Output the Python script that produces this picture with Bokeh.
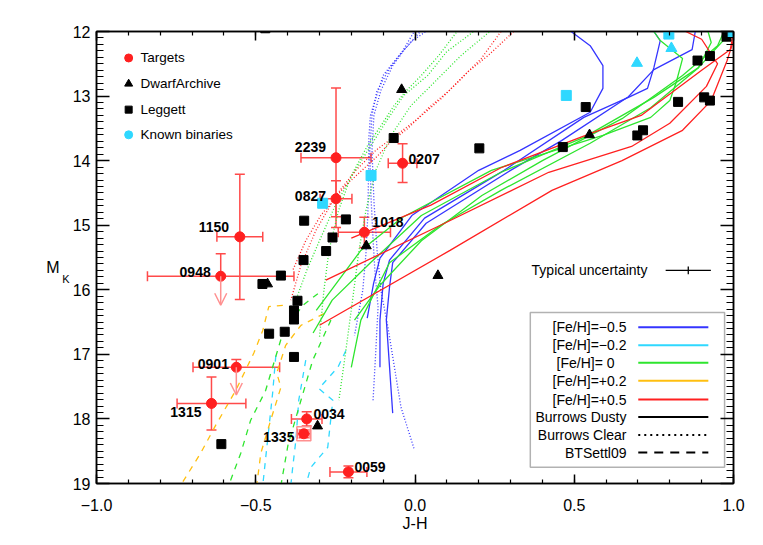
from bokeh.plotting import figure
from bokeh.models import (Range1d, LinearAxis, SingleIntervalTicker, CustomJSTickFormatter,
                          Label, BoxAnnotation, Whisker, TeeHead, ColumnDataSource, Arrow, OpenHead)
from bokeh.embed import file_html
from bokeh.resources import INLINE

# ---------------- data ----------------
# Targets
target_names = ["0207", "2239", "0827", "1018", "1150", "0948", "0901", "1315", "0034", "1335", "0059"]
target_jh = [-0.039, -0.248, -0.248, -0.159, -0.550, -0.610, -0.561, -0.639, -0.340, -0.349, -0.209]
target_mk = [14.04, 13.955, 14.59, 15.11, 15.18, 15.79, 17.20, 17.76, 18.00, 18.23, 18.82]
target_jh_err = [0.045, 0.11, 0.05, 0.082, 0.072, 0.23, 0.136, 0.108, 0.048, 0.02, 0.058]
target_mk_err = [0.30, 1.08, 0.28, 0.235, 0.97, 0.35, 0.12, 0.41, 0.11, 0.06, 0.09]
target_upper_limit = [False, False, False, False, False, True, True, False, False, False, False]
limit_mk_end = [16.24, 17.63]  # arrow tips for the two upper limits (0948, 0901)
highlight_names = ["1335"]

# DwarfArchive (triangles)
dwarf_jh = [-0.042, 0.548, -0.153, 0.072, -0.463, -0.306]
dwarf_mk = [12.90, 13.60, 15.32, 15.78, 15.91, 18.11]

# Leggett (squares)
leggett_jh = [-0.067, 0.202, 0.536, 0.464, 0.698, 0.716, 0.826, 0.908, 0.926, 0.887, 0.926, 0.978,
              -0.421, -0.479, -0.348, -0.350, -0.369, -0.380, -0.380, -0.458, -0.409, -0.217,
              -0.259, -0.279, -0.380, -0.608, -0.470]
leggett_mk = [13.65, 13.81, 13.17, 13.79, 13.61, 13.53, 13.09, 13.02, 13.07, 12.45, 12.38, 12.08,
              15.78, 15.91, 14.93, 15.54, 16.17, 16.32, 16.46, 16.68, 16.65, 14.91,
              15.19, 15.40, 17.04, 18.39, 11.95]

# Known binaries (cyan)
binary_sq_jh = [-0.138, -0.290, 0.475, 0.797, 0.999]
binary_sq_mk = [14.23, 14.66, 12.99, 12.04, 12.01]
binary_tri_jh = [0.697, 0.805]
binary_tri_mk = [12.49, 12.26]

# Burrows Dusty (solid)
dusty_m05_x = [[0.49, 0.55, 0.59, 0.59, 0.55, 0.33, 0.20, -0.01, -0.11, -0.13, -0.15],
               [0.75, 0.77, 0.75, 0.73, 0.67, 0.53, 0.28, 0.03, -0.08, -0.10, -0.11, -0.11],
               [0.88, 0.87, 0.75, 0.67, 0.46, 0.30, 0.035, -0.07, -0.08, -0.09, -0.07]]
dusty_m05_y = [[12.00, 12.22, 12.53, 12.88, 13.25, 13.84, 14.15, 14.85, 15.51, 15.90, 16.44],
               [12.00, 12.14, 12.56, 12.88, 13.02, 13.33, 14.15, 14.89, 15.54, 15.90, 16.47, 17.20],
               [12.00, 12.28, 12.59, 13.01, 13.69, 14.15, 14.97, 15.58, 15.96, 16.47, 17.91]]
dusty_00_x = [[0.75, 0.77, 0.84, 0.82, 0.80, 0.74, 0.59, 0.24, -0.04, -0.17, -0.31],
              [0.92, 0.93, 0.89, 0.75, 0.53, 0.27, 0.02, -0.14, -0.26, -0.32],
              [0.99, 0.89, 0.74, 0.55, 0.27, 0.08, -0.08, -0.17, -0.20],
              [0.97, 0.95, 0.84, 0.65, 0.40, 0.21, 0.02, -0.11, -0.19]]
dusty_00_y = [[12.00, 12.14, 12.42, 12.79, 13.07, 13.33, 13.61, 14.15, 14.88, 15.39, 16.32],
              [12.00, 12.17, 12.56, 13.02, 13.64, 14.18, 14.85, 15.58, 16.16, 16.67],
              [12.02, 12.56, 13.18, 13.73, 14.46, 15.00, 15.58, 16.47, 17.20],
              [12.00, 12.22, 12.68, 13.35, 14.00, 14.54, 15.24, 15.93, 16.47]]
dusty_p05_x = [[-0.20, 0.05, 0.27, 0.55, 0.71, 0.90, 0.99, 1.00],
               [-0.28, 0.08, 0.42, 0.68, 0.80, 0.915, 0.95, 0.90, 0.85],
               [-0.30, 0.11, 0.43, 0.65, 0.84, 0.93, 0.98, 1.00]]
dusty_p05_y = [[15.20, 14.69, 14.11, 13.58, 13.30, 12.60, 12.28, 12.00],
               [15.85, 15.00, 14.18, 13.78, 13.42, 12.85, 12.50, 12.12, 12.00],
               [16.55, 15.39, 14.46, 14.00, 13.53, 13.07, 12.45, 12.14]]

# Burrows Clear (dotted)
clear_m05_x = [[0.04, -0.01, -0.05, -0.10, -0.12, -0.14, -0.145, -0.145, -0.148, -0.154, -0.164, -0.19],
               [0.00, -0.04, -0.08, -0.12, -0.135, -0.142, -0.138, -0.132, -0.126, -0.116, -0.123, -0.132],
               [0.02, -0.03, -0.07, -0.107, -0.129, -0.135, -0.129, -0.119, -0.107, -0.085, -0.044, -0.003]]
clear_m05_y = [[11.98, 12.15, 12.37, 12.68, 12.99, 13.30, 13.66, 14.01, 14.82, 15.44, 16.01, 16.71],
               [11.98, 12.31, 12.57, 12.93, 13.30, 13.84, 14.57, 15.19, 15.70, 16.27, 16.94, 17.74],
               [11.98, 12.26, 12.53, 12.91, 13.30, 13.84, 14.62, 15.39, 16.01, 16.58, 17.82, 18.46]]
clear_00_x = [[0.19, 0.10, 0.04, -0.035, -0.085, -0.13, -0.19, -0.25, -0.30, -0.34, -0.38],
              [0.135, 0.075, 0.02, -0.03, -0.066, -0.107, -0.148, -0.20, -0.24, -0.27, -0.286, -0.30],
              [0.24, 0.145, 0.066, -0.013, -0.075, -0.123, -0.154, -0.176, -0.195, -0.217, -0.239]]
clear_00_y = [[11.98, 12.31, 12.68, 12.99, 13.35, 13.70, 14.17, 14.69, 15.24, 15.70, 16.24],
              [11.98, 12.37, 12.68, 12.93, 13.15, 13.46, 13.76, 14.23, 14.77, 15.39, 16.01, 16.74],
              [11.98, 12.37, 12.76, 13.15, 13.61, 14.15, 14.77, 15.39, 16.12, 16.94, 17.71]]
clear_p05_x = [[0.31, 0.23, 0.167, 0.104, 0.041, -0.022, -0.075, -0.116, -0.16, -0.217, -0.296, -0.343, -0.384],
               [0.27, 0.208, 0.145, 0.082, 0.009, -0.06, -0.123, -0.186, -0.248, -0.311, -0.358, -0.39]]
clear_p05_y = [[12.00, 12.37, 12.62, 12.93, 13.19, 13.50, 13.70, 13.92, 14.12, 14.38, 14.85, 15.24, 15.70],
               [12.00, 12.42, 12.73, 13.04, 13.35, 13.61, 13.84, 14.15, 14.54, 15.08, 15.62, 16.16]]

# BT-Settl09 (dashed)
settl_m02_x = [[-0.217, -0.242, -0.302, -0.258, -0.274, -0.327, -0.343],
               [-0.343, -0.365, -0.374, -0.384, -0.390],
               [-0.437, -0.447, -0.462, -0.478]]
settl_m02_y = [[16.94, 17.20, 17.53, 17.71, 18.44, 18.75, 19.03],
               [17.09, 17.71, 18.33, 18.75, 19.03],
               [17.02, 17.60, 18.29, 19.03]]
settl_00_x = [[-0.305, -0.352, -0.415, -0.469, -0.516, -0.547, -0.585],
              [-0.264, -0.321, -0.358, -0.399, -0.421]]
settl_00_y = [[16.06, 16.24, 16.67, 17.56, 18.02, 18.53, 19.03],
              [16.47, 17.09, 17.71, 18.41, 19.03]]
settl_p02_x = [[-0.415, -0.459, -0.478, -0.506, -0.563, -0.626, -0.673, -0.736],
               [-0.286, -0.358, -0.406, -0.434, -0.421, -0.453, -0.484, -0.497]]
settl_p02_y = [[16.24, 16.26, 16.63, 16.98, 17.56, 18.10, 18.53, 19.03],
               [16.37, 16.55, 16.86, 17.29, 17.51, 18.02, 18.53, 19.03]]

# typical uncertainty
typ_jh_err = 0.071
typ_mk_err = 0.06

metal_labels = ["[Fe/H]=\u22120.5", "[Fe/H]=\u22120.2", "[Fe/H]= 0", "[Fe/H]=+0.2", "[Fe/H]=+0.5"]
model_labels = ["Burrows Dusty", "Burrows Clear", "BTSettl09"]
point_labels = ["Targets", "DwarfArchive", "Leggett", "Known binaries"]

# ---------------- style ----------------
FONT = "Liberation Sans"
BLUE = "#3535ff"
CYAN = "#2fd8ff"
GREEN = "#2ee52e"
YELLOW = "#ffbf10"
RED = "#ff2020"
ERR = "#ff4a4a"
PINK = "#ff9090"
DOT = "1 2"
DASH = "6 6"

p = figure(frame_width=637, frame_height=452, x_range=Range1d(-1, 1), y_range=Range1d(19, 12),
           output_backend="svg", toolbar_location=None,
           min_border_left=96, min_border_top=31, min_border_right=20, min_border_bottom=58)
p.grid.visible = False
p.outline_line_color = "black"
p.outline_line_width = 1.5
p.background_fill_color = "white"
p.border_fill_color = "white"

xt = SingleIntervalTicker(interval=0.5, num_minor_ticks=5)
yt = SingleIntervalTicker(interval=1, num_minor_ticks=10)
xfmt = CustomJSTickFormatter(code="if (Math.abs(tick) < 1e-9) return '0.0'; return (tick < 0 ? '\u2212' : '') + Math.abs(tick).toFixed(1);")
yfmt = CustomJSTickFormatter(code="return tick.toFixed(0);")
blank = CustomJSTickFormatter(code="return '';")


def style(ax, major, minor):
    ax.axis_line_width = 1.5
    ax.major_tick_in = major
    ax.major_tick_out = 0
    ax.minor_tick_in = minor
    ax.minor_tick_out = 0
    ax.major_tick_line_width = 1.5
    ax.minor_tick_line_width = 1.2
    ax.major_label_text_font = FONT
    ax.major_label_text_font_size = "16px"
    ax.major_label_text_color = "black"
    ax.axis_label_text_font = FONT
    ax.axis_label_text_font_style = "normal"
    ax.axis_label_text_color = "black"


xa = p.xaxis[0]
xa.ticker = xt
xa.formatter = xfmt
style(xa, 9, 4)
xa.major_label_standoff = 15
xa.axis_label = "J-H"
xa.axis_label_text_font_size = "16px"
xa.axis_label_standoff = 1

ya = p.yaxis[0]
ya.ticker = yt
ya.formatter = yfmt
style(ya, 13, 7)
ya.major_label_standoff = 6

# y title: "M" with subscript "K", horizontal
ya.axis_label = " \n \n \nK"
ya.axis_label_text_font_size = "11px"
ya.axis_label_standoff = 0
outer = LinearAxis(ticker=yt, formatter=blank, major_label_standoff=0,
                   axis_label=" \nM", axis_label_standoff=0)
style(outer, 0, 0)
outer.axis_line_color = None
outer.major_tick_line_color = None
outer.minor_tick_line_color = None
outer.major_label_text_font_size = "0px"
outer.axis_label_text_font_size = "16px"
for ax in (ya, outer):
    try:
        ax.axis_label_orientation = "horizontal"
    except AttributeError:
        pass
p.add_layout(outer, "left")

top = LinearAxis(ticker=xt, formatter=blank, major_label_standoff=0)
style(top, 9, 4)
top.major_label_text_font_size = "0px"
p.add_layout(top, "above")
right = LinearAxis(ticker=yt, formatter=blank, major_label_standoff=0)
style(right, 13, 7)
right.major_label_text_font_size = "0px"
p.add_layout(right, "right")

# ---------------- model curves ----------------
def curves(xs, ys, color, dash):
    for cx, cy in zip(xs, ys):
        p.line(cx, cy, line_color=color, line_width=1.3, line_dash=dash)

curves(settl_m02_x, settl_m02_y, CYAN, DASH)
curves(settl_00_x, settl_00_y, GREEN, DASH)
curves(settl_p02_x, settl_p02_y, YELLOW, DASH)
curves(clear_m05_x, clear_m05_y, BLUE, DOT)
curves(clear_00_x, clear_00_y, GREEN, DOT)
curves(clear_p05_x, clear_p05_y, RED, DOT)
curves(dusty_m05_x, dusty_m05_y, BLUE, "solid")
curves(dusty_00_x, dusty_00_y, GREEN, "solid")
curves(dusty_p05_x, dusty_p05_y, RED, "solid")

# ---------------- comparison samples ----------------
p.scatter(leggett_jh, leggett_mk, marker="square", size=9, color="black")
p.scatter(dwarf_jh, dwarf_mk, marker="triangle", size=10, color="black")
p.scatter(binary_sq_jh, binary_sq_mk, marker="square", size=10, color=CYAN)
p.scatter(binary_tri_jh, binary_tri_mk, marker="triangle", size=11, color=CYAN)

# ---------------- targets ----------------
n = len(target_names)
src_x = ColumnDataSource(dict(
    y=target_mk,
    lo=[target_jh[i] - target_jh_err[i] for i in range(n)],
    hi=[target_jh[i] + target_jh_err[i] for i in range(n)]))
p.add_layout(Whisker(source=src_x, base="y", lower="lo", upper="hi", dimension="width",
                     line_color=ERR, line_width=1.5,
                     lower_head=TeeHead(size=10, line_color=ERR, line_width=1.5),
                     upper_head=TeeHead(size=10, line_color=ERR, line_width=1.5)))
idx_full = [i for i in range(n) if not target_upper_limit[i]]
idx_lim = [i for i in range(n) if target_upper_limit[i]]
src_y = ColumnDataSource(dict(
    x=[target_jh[i] for i in idx_full],
    lo=[target_mk[i] - target_mk_err[i] for i in idx_full],
    hi=[target_mk[i] + target_mk_err[i] for i in idx_full]))
p.add_layout(Whisker(source=src_y, base="x", lower="lo", upper="hi", dimension="height",
                     line_color=ERR, line_width=1.5,
                     lower_head=TeeHead(size=10, line_color=ERR, line_width=1.5),
                     upper_head=TeeHead(size=10, line_color=ERR, line_width=1.5)))
src_yl = ColumnDataSource(dict(
    x=[target_jh[i] for i in idx_lim],
    lo=[target_mk[i] - target_mk_err[i] for i in idx_lim],
    hi=[target_mk[i] for i in idx_lim]))
p.add_layout(Whisker(source=src_yl, base="x", lower="lo", upper="hi", dimension="height",
                     line_color=ERR, line_width=1.5,
                     lower_head=TeeHead(size=10, line_color=ERR, line_width=1.5),
                     upper_head=TeeHead(size=0, line_color=ERR, line_width=0)))
src_arr = ColumnDataSource(dict(
    x=[target_jh[i] for i in idx_lim],
    y0=[target_mk[i] for i in idx_lim],
    y1=limit_mk_end))
p.add_layout(Arrow(source=src_arr, x_start="x", y_start="y0", x_end="x", y_end="y1",
                   line_color=PINK, line_width=1.5,
                   end=OpenHead(size=12, line_color=PINK, line_width=1.5)))

hl = [target_names.index(nm) for nm in highlight_names]
p.scatter([target_jh[i] for i in hl], [target_mk[i] for i in hl], marker="square", size=14,
          fill_color=None, line_color=PINK, line_width=1.5)
p.scatter(target_jh, target_mk, marker="circle", size=10, color=RED)

label_style = {  # align, x offset, y offset (px)
    "0207": ("left", 6, 4.5), "2239": ("right", -10, 10.5), "0827": ("right", -10, 3),
    "1018": ("left", 8, 10), "1150": ("right", -10.7, 10), "0948": ("right", -10, 4),
    "0901": ("right", -7.4, 3.4), "1315": ("right", -10, -9), "0034": ("left", 6.7, 5),
    "1335": ("right", -9.4, -3), "0059": ("left", 6, 4.7)}
for nm, tx, ty in zip(target_names, target_jh, target_mk):
    al, dx, dy = label_style[nm]
    p.add_layout(Label(x=tx, y=ty, text=nm, x_offset=dx, y_offset=dy, text_align=al,
                       text_baseline="middle", text_font=FONT, text_font_size="14px",
                       text_font_style="bold", text_color="black"))

# ---------------- upper-left key ----------------
KEY_MX, KEY_TX = -0.899, -0.862
KEY_Y = [12.41, 12.81, 13.21, 13.60]
key_marks = [("circle", RED, 8), ("triangle", "black", 8), ("square", "black", 7), ("circle", CYAN, 8)]
for (mk, col, sz), ky, txt in zip(key_marks, KEY_Y, point_labels):
    p.scatter([KEY_MX], [ky], marker=mk, size=sz, color=col)
    p.add_layout(Label(x=KEY_TX, y=ky, text=txt, text_baseline="middle", text_font=FONT,
                       text_font_size="13.5px", text_color="black"))

# ---------------- typical uncertainty ----------------
TYP_X, TYP_Y, TYP_TX = 0.858, 15.70, 0.730
p.add_layout(Label(x=TYP_TX, y=TYP_Y, text="Typical uncertainty", text_align="right",
                   text_baseline="middle", text_font=FONT, text_font_size="14px", text_color="black"))
p.segment([TYP_X - typ_jh_err, TYP_X], [TYP_Y, TYP_Y - typ_mk_err],
          [TYP_X + typ_jh_err, TYP_X], [TYP_Y, TYP_Y + typ_mk_err], line_color="black", line_width=1.3)

# ---------------- model key ----------------
BOX = dict(left=0.362, right=0.972, top=16.35, bottom=18.75)
p.add_layout(BoxAnnotation(left=BOX["left"], right=BOX["right"], top=BOX["top"], bottom=BOX["bottom"],
                           fill_color=None, fill_alpha=0, line_color="black", line_width=1.5))
ROW_Y = [16.58, 16.86, 17.13, 17.41, 17.70, 17.97, 18.25, 18.52]
TXT_X, L0, L1 = 0.664, 0.701, 0.921
row_txt = metal_labels + model_labels
row_col = [BLUE, CYAN, GREEN, YELLOW, RED, "black", "black", "black"]
row_dash = ["solid"] * 6 + ["2 4", "9 7"]
row_xo = [0, 0, -12, 0, 0, 0, 0, 0]
for ry, txt, col, ds, xo in zip(ROW_Y, row_txt, row_col, row_dash, row_xo):
    p.add_layout(Label(x=TXT_X, y=ry, text=txt, x_offset=xo, text_align="right", text_baseline="middle",
                       text_font=FONT, text_font_size="14px", text_color="black"))
    p.line([L0, L1], [ry, ry], line_color=col, line_width=2, line_dash=ds)

open("out.html", "w").write(file_html(p, INLINE))
